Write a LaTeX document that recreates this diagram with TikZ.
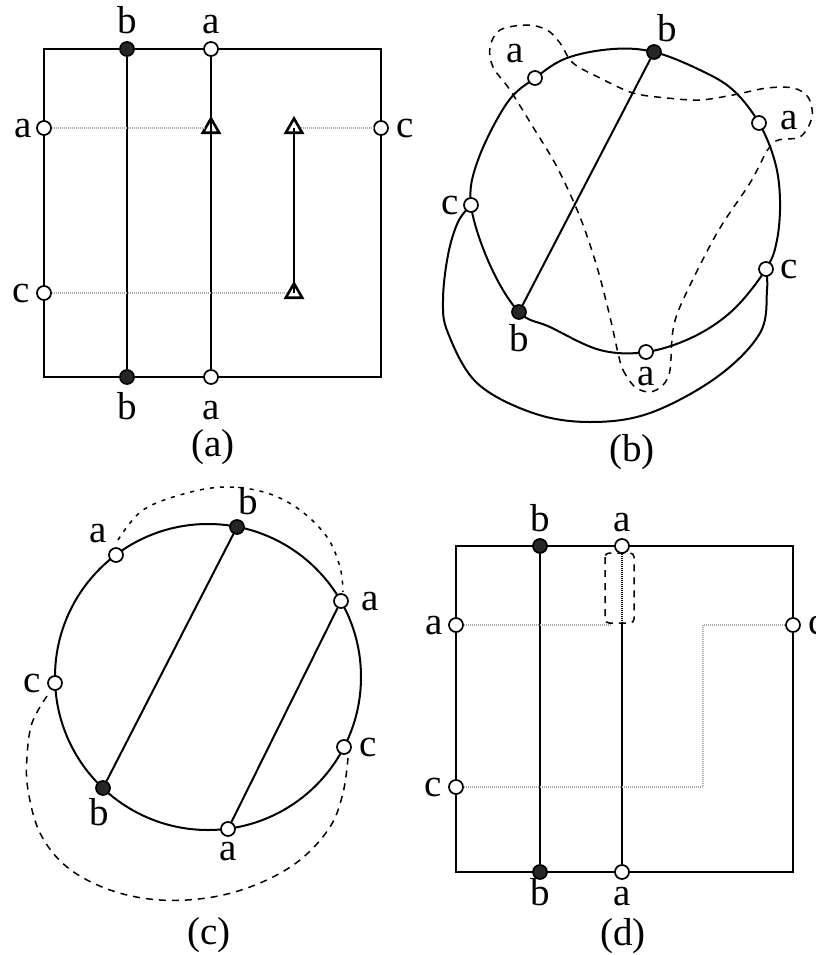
\documentclass[tikz,border=0pt]{standalone}
\usepackage{fontspec}
\setmainfont{Liberation Serif}
\usetikzlibrary{positioning,shapes.geometric}

\begin{document}
\begin{tikzpicture}[x=1pt, y=-1pt, line width=2pt,
    open/.style={circle, draw, fill=white, line width=1.7pt, inner sep=0pt, minimum size=14pt},
    full/.style={circle, draw, fill=black!85, line width=1.7pt, inner sep=0pt, minimum size=14pt},
    tri/.style={regular polygon, regular polygon sides=3, draw, line width=2.6pt, inner sep=0pt, minimum size=19pt},
    lbl/.style={inner sep=0pt, text height=18pt, text depth=0pt, font=\fontsize{39}{44}\selectfont},
    figcap/.style={inner sep=0pt, font=\fontsize{39}{44}\selectfont},
    guide/.style={gray!65, line width=1.6pt, dash pattern=on 1pt off 1pt},
    hid/.style={line width=1.5pt, dash pattern=on 7pt off 6pt},
    dots/.style={line width=1.5pt, dash pattern=on 4pt off 6pt}]

    \fill[white] (0,0) rectangle (815,955);
    \useasboundingbox (0,0) rectangle (815,955);

    % (a)
    \draw (44,49) rectangle (381,377);
    \node[full] (Ab1) at (127,49) {};
    \node[full] (Ab2) at (127,377) {};
    \node[open] (Aa1) at (211,49) {};
    \node[open] (Aa2) at (211,377) {};
    \node[open] (Aa3) at (44,128) {};
    \node[open] (Ac1) at (44,293) {};
    \node[open] (Ac2) at (381,128) {};
    \node[tri] (At1) at (211,128) {};
    \node[tri] (At2) at (294,128) {};
    \node[tri] (At3) at (294,293) {};
    \draw (Ab1) -- (Ab2);
    \draw (Aa1) -- (Aa2);
    \draw (At2.center) -- (At3.center);
    \draw[guide] (Aa3) -- (At1);
    \draw[guide] (At2) -- (Ac2);
    \draw[guide] (Ac1) -- (At3);
    \node[lbl, above=7pt of Ab1] {b};
    \node[lbl, above=7pt of Aa1] {a};
    \node[lbl, below=16pt of Ab2] {b};
    \node[lbl, below=16pt of Aa2] {a};
    \node[lbl, left=3pt of Aa3] {a};
    \node[lbl, left=5pt of Ac1] {c};
    \node[lbl, right=7pt of Ac2] {c};
    \node[figcap] at (213,447) {(a)};

    % (b)
    \draw plot[smooth cycle, tension=0.6] coordinates {(471,205) (478,160) (507,103)
        (535,78) (567,58) (613,49) (654,52) (700,70) (733,90) (759,123) (775,162) (780,200)
        (777,240) (766,269) (733,310) (693,337) (646,352) (600,350) (550,327) (519,312)
        (490,265)};
    \draw plot[smooth, tension=0.6] coordinates {(471,205) (458,222) (448,255) (443,300)
        (448,333) (477,383) (533,413) (590,422) (650,413) (717,377) (760,333) (767,290) (766,269)};
    \draw[hid] plot[smooth cycle, tension=0.55] coordinates {(618,353) (623,370) (635,387)
        (650,392) (663,385) (670,370) (673,330) (683,300) (717,233) (750,183) (773,143)
        (800,137) (812,117) (808,97) (793,88) (767,88) (733,95) (700,100) (667,98) (633,93)
        (600,78) (573,63) (560,43) (547,30) (527,25) (500,30) (490,47) (493,67) (510,90)
        (533,127) (557,167) (580,217) (597,267) (610,317)};
    \node[full] (Bb1) at (654,52) {};
    \node[full] (Bb2) at (519,312) {};
    \node[open] (Ba1) at (535,78) {};
    \node[open] (Ba2) at (759,123) {};
    \node[open] (Ba3) at (646,352) {};
    \node[open] (Bc1) at (471,205) {};
    \node[open] (Bc2) at (766,269) {};
    \draw (Bb1) -- (Bb2);
    \node[lbl, above=2pt of Bb1, xshift=13pt] {b};
    \node[lbl, above left=9pt and 5pt of Ba1] {a};
    \node[lbl, right=13pt of Ba2, yshift=3pt] {a};
    \node[lbl, left=3pt of Bc1] {c};
    \node[lbl, right=6pt of Bc2] {c};
    \node[lbl, below=13pt of Bb2] {b};
    \node[lbl, below=7pt of Ba3] {a};
    \node[figcap] at (632,452) {(b)};

    % (c)
    \draw (208,677) circle[radius=153pt];
    \draw[dots] plot[smooth, tension=0.6] coordinates {(118,540) (143,510) (187,493) (227,487)
        (267,493) (300,510) (327,537) (340,567) (343,592)};
    \draw[hid] plot[smooth, tension=0.6] coordinates {(47,696) (32,723) (27,757) (28,790)
        (40,833) (67,867) (110,890) (160,900) (213,897) (260,883) (300,860) (330,827)
        (343,793) (348,758)};
    \node[full] (Cb1) at (237,527) {};
    \node[full] (Cb2) at (103,788) {};
    \node[open] (Ca1) at (116,555) {};
    \node[open] (Ca2) at (341,601) {};
    \node[open] (Ca3) at (228,829) {};
    \node[open] (Cc1) at (55,683) {};
    \node[open] (Cc2) at (344,747) {};
    \draw (Cb1) -- (Cb2);
    \draw (Ca2) -- (Ca3);
    \node[lbl, above=4pt of Cb1, xshift=11pt] {b};
    \node[lbl, above left=6pt and 3pt of Ca1] {a};
    \node[lbl, right=12pt of Ca2] {a};
    \node[lbl, left=5pt of Cc1] {c};
    \node[lbl, right=7pt of Cc2] {c};
    \node[lbl, below=11pt of Cb2, xshift=-4pt] {b};
    \node[lbl, below=5pt of Ca3] {a};
    \node[figcap] at (209,935) {(c)};

    % (d)
    \draw (456,546) rectangle (793,872);
    \draw[hid, rounded corners=4pt] (605,553) rectangle (634,623);
    \node[full] (Db1) at (540,546) {};
    \node[full] (Db2) at (540,872) {};
    \node[open] (Da1) at (622,546) {};
    \node[open] (Da2) at (622,872) {};
    \node[open] (Da3) at (456,625) {};
    \node[open] (Dc1) at (456,787) {};
    \node[open] (Dc2) at (793,625) {};
    \coordinate (Dm) at (622,625);
    \draw (Db1) -- (Db2);
    \draw[dash pattern=on 1.2pt off 0.8pt] (Da1) -- (Dm);
    \draw (Dm) -- (Da2);
    \draw[guide] (Da3) -- (610,625);
    \draw[guide] (Dc1) -- (703,787) -- (703,625) -- (Dc2);
    \node[lbl, above=6pt of Db1] {b};
    \node[lbl, above=6pt of Da1] {a};
    \node[lbl, below=7pt of Db2] {b};
    \node[lbl, below=7pt of Da2] {a};
    \node[lbl, left=4pt of Da3] {a};
    \node[lbl, left=5pt of Dc1] {c};
    \node[lbl, right=7pt of Dc2] {c};
    \node[figcap] at (623,936) {(d)};
\end{tikzpicture}
\end{document}
